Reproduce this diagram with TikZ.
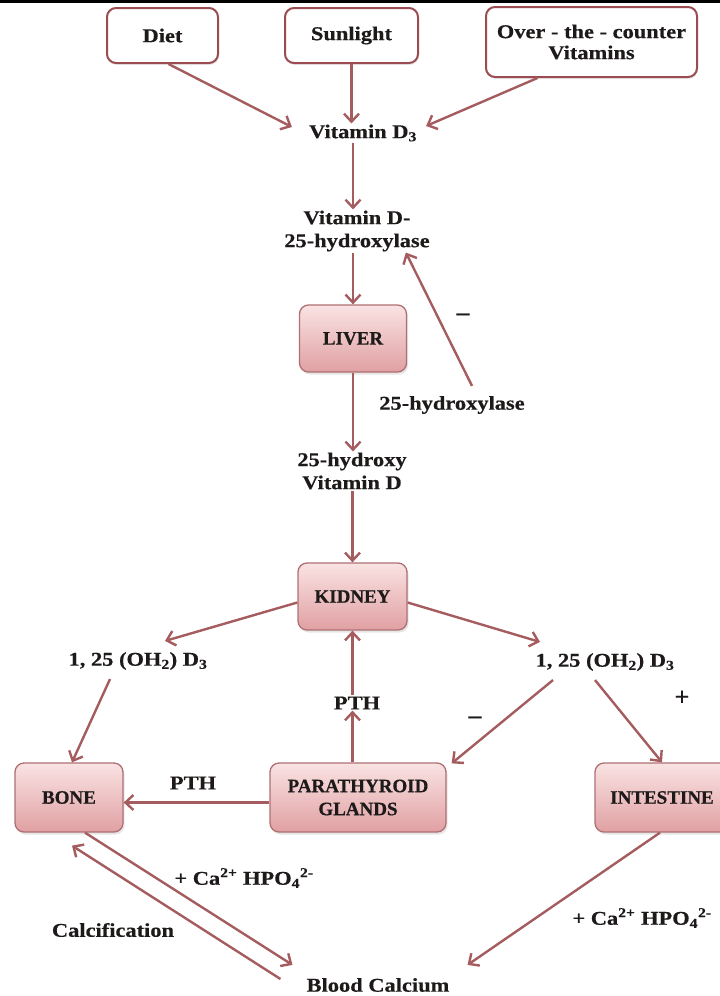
\documentclass[tikz,border=0pt]{standalone}
\usepackage{fontspec}
\setmainfont{Liberation Serif}[FakeStretch=1.15, BoldFeatures={FakeBold=0.5}]
\newfontfamily\boxfont{Liberation Serif}[BoldFeatures={FakeBold=0.5}]
\usetikzlibrary{arrows.meta,shadows}
\definecolor{rim}{HTML}{9A4C50}
\definecolor{flow}{HTML}{A55C5F}
\definecolor{pinktop}{HTML}{FAE3E3}
\definecolor{pinkbot}{HTML}{E0A0A3}
\definecolor{ink}{HTML}{1E1A1A}

\begin{document}
\begin{tikzpicture}[x=1pt,y=-1pt,
  font=\bfseries\fontsize{19.5}{23}\selectfont, text=ink,
  src/.style={draw=rim, line width=2pt, rounded corners=9pt, fill=white, align=center, inner sep=0pt,
    drop shadow={opacity=0.15, shadow xshift=1pt, shadow yshift=-2pt}},
  organ/.style={draw=rim!80, line width=1.3pt, rounded corners=9pt, top color=pinktop, bottom color=pinkbot,
    align=center, inner sep=0pt, font=\boxfont\bfseries\fontsize{19}{23}\selectfont,
    drop shadow={opacity=0.2, shadow xshift=1.5pt, shadow yshift=-2.5pt}},
  lbl/.style={align=center, inner sep=1pt},
  sign/.style={inner sep=1pt, font=\boxfont\bfseries\fontsize{26}{26}\selectfont},
  arr/.style={draw=flow, line width=2.4pt, -{Straight Barb[length=8pt,width=15pt]}}]
\clip (0,0) rectangle (720,996);
\fill[black] (0,0) rectangle (720,3);

% sources of vitamin D
\node[src, minimum width=111, minimum height=55] (diet) at (162.5,35.5) {Diet};
\node[src, minimum width=133, minimum height=55] (sun) at (351.5,35.5) {Sunlight};
\node[src, minimum width=211, minimum height=70, font=\bfseries\fontsize{19.5}{21}\selectfont] (otc) at (591.5,42) {Over - the - counter\\Vitamins};
\node[lbl] (vitd3) at (363,133) {Vitamin D\textsubscript{3}};
\draw[arr] ([xshift=6pt]diet.south) -- ([xshift=-16pt,yshift=6pt]vitd3.west);
\draw[arr] (sun.south) -- (sun.south |- vitd3.north);
\draw[arr] ([xshift=-54pt]otc.south) -- ([xshift=8pt,yshift=7pt]vitd3.east);

% liver
\node[lbl] (enz) at (357,231) {Vitamin D-\\25-hydroxylase};
\node[organ, minimum width=107, minimum height=67] (liver) at (353,338.5) {LIVER};
\node[lbl] (hyd) at (452,405) {25-hydroxylase};
\node[sign] (minus1) at (463,317) {\textendash};
\node[lbl] (hydvd) at (352,471) {25-hydroxy\\Vitamin D};
\draw[arr] (vitd3.south -| liver) -- (enz.north -| liver);
\draw[arr] (enz.south -| liver) -- (liver.north);
\draw[arr] ([xshift=20pt,yshift=9pt]hyd.north) -- ([xshift=-25pt]enz.south east);
\draw[arr] (liver.south) -- (hydvd.north -| liver);

% kidney
\node[organ, minimum width=109, minimum height=67] (kidney) at (352.5,596.5) {KIDNEY};
\node[lbl] (l125) at (138,661) {1, 25 (OH\textsubscript{2}) D\textsubscript{3}};
\node[lbl] (r125) at (605,662) {1, 25 (OH\textsubscript{2}) D\textsubscript{3}};
\node[lbl] (pthv) at (357,703) {PTH};
\node[sign] (minus2) at (475,720) {\textendash};
\node[sign] (plus) at (682,698) {+};
\draw[arr] (hydvd.south -| kidney) -- (kidney.north);
\draw[arr] ([yshift=-6pt]kidney.west) -- ([xshift=27pt,yshift=10pt]l125.north);
\draw[arr] ([yshift=-6pt]kidney.east) -- ([xshift=-65pt,yshift=10pt]r125.north);

% targets
\node[organ, minimum width=108, minimum height=69] (bone) at (69,797.5) {BONE};
\node[organ, minimum width=176, minimum height=69] (para) at (358,797.5) {PARATHYROID\\GLANDS};
\node[organ, minimum width=134, minimum height=69] (intest) at (662,797.5) {INTESTINE};
\node[lbl] (pthh) at (193,783) {PTH};
\draw[arr] ([xshift=-28pt,yshift=-8pt]l125.south) -- ([xshift=3pt]bone.north);
\draw[arr] (para.north -| kidney) -- (pthv.south -| kidney);
\draw[arr] (pthv.north -| kidney) -- (kidney.south);
\draw[arr] ([yshift=-5pt]para.west) -- ([yshift=-5pt]bone.east);
\draw[arr] ([xshift=-52pt,yshift=-8pt]r125.south) -- ([xshift=5pt,yshift=-1pt]para.north east);
\draw[arr] ([xshift=-10pt,yshift=-8pt]r125.south) -- (intest.north);

% blood calcium
\node[lbl] (ca1) at (244,878) {+ Ca\textsuperscript{2+} HPO\textsubscript{4}\textsuperscript{2-}};
\node[lbl] (calc) at (113,930) {Calcification};
\node[lbl] (ca2) at (642,918) {+ Ca\textsuperscript{2+} HPO\textsubscript{4}\textsuperscript{2-}};
\node[lbl] (blood) at (378,985) {Blood Calcium};
\draw[arr] ([xshift=16pt]bone.south) -- ([xshift=-13pt,yshift=12pt]blood.north west);
\draw[arr] ([xshift=-25pt,yshift=6pt]blood.west) -- ([xshift=3pt,yshift=-13pt]bone.south);
\draw[arr] ([xshift=-2pt]intest.south) -- ([xshift=17pt,yshift=12pt]blood.north east);
\end{tikzpicture}
\end{document}
